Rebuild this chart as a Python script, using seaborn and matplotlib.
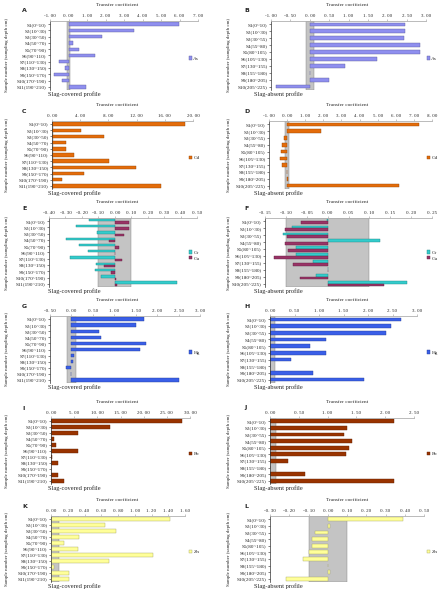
import numpy as np
import pandas as pd
import seaborn as sns
import matplotlib.pyplot as plt
from matplotlib.ticker import FuncFormatter

sns.set_style("white")
plt.rcParams['font.family'] = ['Liberation Serif', 'DejaVu Serif']

# sample labels
covered_samples = ["S1(0~10)", "S2(10~30)", "S3(30~50)", "S4(50~70)", "S5(70~90)",
                   "S6(90~110)", "S7(110~130)", "S8(130~150)", "S9(150~170)",
                   "S10(170~190)", "S11(190~210)"]
absent_samples = ["S1(0~10)", "S2(10~30)", "S3(30~55)", "S4(55~80)", "S5(80~105)",
                  "S6(105~130)", "S7(130~155)", "S8(155~180)", "S9(180~205)",
                  "S10(205~225)"]

# transfer coefficients
as_covered = [5.95, 3.52, 1.79, 0.23, 0.57, 1.41, -0.50, -0.21, -0.77, -0.36, 0.95]
as_absent = [2.45, 2.47, 2.44, 2.85, 2.85, 1.73, 0.90, 0.00, 0.49, -0.88]
cd_covered = [18.9, 4.08, 7.37, 1.92, 1.92, 3.19, 8.07, 11.9, 4.50, 1.46, 15.4]
cd_absent = [7.30, 1.89, -0.18, -0.29, -0.35, -0.40, -0.26, 0.00, 0.07, 6.17]
cr_covered = [-0.155, -0.233, -0.108, -0.296, -0.22, -0.165, -0.275, -0.112, -0.122, -0.082, 0.38]
cu_covered = [0.086, 0.086, 0.055, -0.037, 0.024, 0.003, 0.045, -0.067, -0.02, 0.01, 0.014]
cr_absent = [-0.002, -0.085, -0.106, 0.125, -0.075, -0.075, -0.034, 0.0, -0.027, 0.19]
cu_absent = [-0.064, -0.102, -0.098, -0.102, -0.096, -0.129, -0.082, 0.0, -0.066, 0.135]
hg_covered = [1.70, 1.51, 0.65, 0.69, 1.74, 1.60, 0.06, 0.03, -0.13, -0.02, 2.50]
hg_absent = [2.67, 2.47, 2.37, 1.14, 0.82, 1.14, 0.43, 0.0, 0.88, 1.91]
pb_covered = [28.3, 12.7, 5.9, 0.6, 1.0, 5.8, 0.2, 1.45, 0.05, 1.45, 2.9]
pb_absent = [2.16, 1.33, 1.28, 1.43, 1.37, 1.32, 0.32, 0.0, 0.61, 2.16]
zn_covered = [1.42, 0.64, 0.78, 0.34, 0.16, 0.32, 1.22, 0.69, 0.04, 0.21, 0.22]
zn_absent = [0.39, 0.012, -0.066, -0.08, -0.08, -0.097, -0.127, 0.0, 0.014, -0.216]

colors = {"As": "#8f8fef", "Cd": "#e46c0a", "Cr": "#33cccc", "Cu": "#993366",
          "Hg": "#3a5fe8", "Pb": "#993300", "Zn": "#ffff99"}

W, H = 445, 600
row_y = [(21, 90), (121, 189), (218, 287), (316, 383), (418, 484), (516, 582)]

panels = [
    ("A", 0, 0, {"As": as_covered}, (-1, 7), np.arange(-1, 7.01, 1), (50, 198)),
    ("B", 1, 0, {"As": as_absent}, (-1, 3), np.arange(-1, 3.01, 0.5), (271, 426)),
    ("C", 0, 1, {"Cd": cd_covered}, (0, 20), np.arange(0, 20.01, 4), (52, 193)),
    ("D", 1, 1, {"Cd": cd_absent}, (-1, 8), np.arange(-1, 8.01, 1), (269, 432)),
    ("E", 0, 2, {"Cr": cr_covered, "Cu": cu_covered}, (-0.4, 0.5), np.arange(-0.4, 0.501, 0.1), (49, 197)),
    ("F", 1, 2, {"Cr": cr_absent, "Cu": cu_absent}, (-0.15, 0.25), np.arange(-0.15, 0.2501, 0.05), (265, 432)),
    ("G", 0, 3, {"Hg": hg_covered}, (-0.5, 3), np.arange(-0.5, 3.01, 0.5), (50, 200)),
    ("H", 1, 3, {"Hg": hg_absent}, (0, 3), np.arange(0, 3.01, 0.5), (270, 417)),
    ("I", 0, 4, {"Pb": pb_covered}, (0, 30), np.arange(0, 30.01, 5), (51, 190)),
    ("J", 1, 4, {"Pb": pb_absent}, (0, 2.5), np.arange(0, 2.501, 0.5), (270, 414)),
    ("K", 0, 5, {"Zn": zn_covered}, (0, 1.6), np.arange(0, 1.601, 0.2), (51, 185)),
    ("L", 1, 5, {"Zn": zn_absent}, (-0.3, 0.5), np.arange(-0.3, 0.501, 0.1), (270, 424)),
]

fmt = FuncFormatter(lambda v, p: ("%.2f" % (0 if abs(v) < 1e-9 else v)).replace(".", ". "))

fig = plt.figure(figsize=(W / 100, H / 100), dpi=100)

for letter, col, row, series, xlim, xticks, (x0, x1) in panels:
    y0, y1 = row_y[row]
    ax = fig.add_axes([x0 / W, 1 - y1 / H, (x1 - x0) / W, (y1 - y0) / H])
    samples = covered_samples if col == 0 else absent_samples
    df = pd.DataFrame([(s, el, v) for el, vals in series.items() for s, v in zip(samples, vals)],
                      columns=["sample", "element", "value"])
    width = 0.78 if len(series) > 1 else 0.55
    ax.axvspan(-0.1, 0.1, facecolor="#c4c4c4", edgecolor="#6e6e6e", lw=0.5, zorder=0.5)
    sns.barplot(data=df, x="value", y="sample", hue="element", orient="h",
                palette={k: colors[k] for k in series}, width=width, saturation=1,
                ax=ax, legend=True)
    for p in ax.patches:
        fc = p.get_facecolor()
        p.set_edgecolor(tuple(c * 0.65 for c in fc[:3]))
        p.set_linewidth(0.3)
        p.set_zorder(2)
    ax.set_xlim(*xlim)
    ax.set_xticks(xticks)
    ax.xaxis.set_major_formatter(fmt)
    ax.xaxis.tick_top()
    ax.tick_params(axis="x", labelsize=3.6, length=1.5, width=0.4, pad=1, color="#999999")
    ax.tick_params(axis="y", labelsize=3.7, length=1.5, width=0.4, pad=1, left=True)
    ax.set_xlabel("")
    ax.set_ylabel("")
    for s in ["bottom", "right"]:
        ax.spines[s].set_visible(False)
    ax.spines["top"].set_color("#b0b0b0")
    ax.spines["top"].set_linewidth(0.6)
    ax.spines["left"].set_color("#333333")
    ax.spines["left"].set_linewidth(0.5)
    handles, labels = ax.get_legend_handles_labels()
    ax.get_legend().remove()
    lx = 186 if col == 0 else 424
    fig.legend(handles, labels, loc="center left",
               bbox_to_anchor=(lx / W, 1 - ((y0 + y1) / 2 + 3) / H),
               frameon=False, fontsize=3.8, handlelength=0.6, handleheight=0.6,
               handletextpad=0.3, labelspacing=0.2, borderpad=0)

    cx = 117 if col == 0 else 347
    fig.text(cx / W, 1 - (y0 - 16) / H, "Transfer coefficient", ha="center", va="center", fontsize=3.8)
    lxp = 22 if col == 0 else 244
    fig.text(lxp / W, 1 - (y0 - 10) / H, letter, ha="left", va="center", fontsize=4.5,
             fontweight="bold", family="DejaVu Sans")
    sx = 48 if col == 0 else 254
    fig.text(sx / W, 1 - (y1 + 4) / H, "Slag-covered profile" if col == 0 else "Slag-absent profile",
             ha="left", va="center", fontsize=4.6)
    yx = 7 if col == 0 else 229
    fig.text(yx / W, 1 - ((y0 + y1) / 2) / H, "Sample number (sampling depth cm)",
             rotation=90, ha="center", va="center", fontsize=3.6)

fig.savefig("out.png", dpi=100)
